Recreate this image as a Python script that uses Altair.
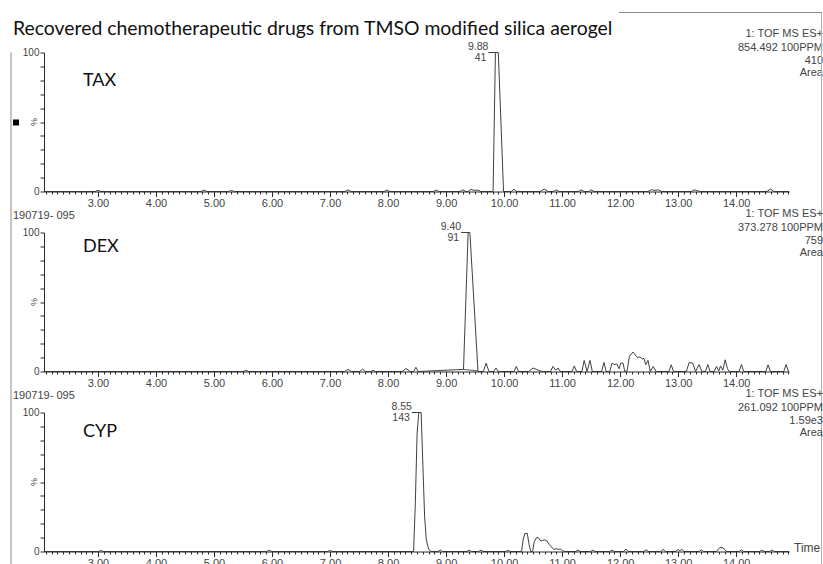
import altair as alt
import pandas as pd

# ---------------- data ----------------
title_text = "Recovered chemotherapeutic drugs from TMSO modified silica aerogel"
panel_names = ["TAX", "DEX", "CYP"]
peak_apex = [9.85, 9.38, 8.53]
peak_labels = ["9.88", "9.40", "8.55"]
peak_counts = ["41", "91", "143"]
info_lines = [
    ["1: TOF MS ES+", "854.492 100PPM", "410", "Area"],
    ["1: TOF MS ES+", "373.278 100PPM", "759", "Area"],
    ["1: TOF MS ES+", "261.092 100PPM", "1.59e3", "Area"],
]
sample_ids = ["", "190719- 095", "190719- 095"]

tax_points = [
    (2.07, 0), (2.95, 0), (3.00, 0.8), (3.05, 0), (4.78, 0), (4.83, 1.0), (4.88, 0),
    (5.25, 0), (5.30, 0.8), (5.35, 0), (7.26, 0), (7.31, 1.2), (7.36, 0), (7.93, 0),
    (7.98, 1.0), (8.03, 0), (8.78, 0), (8.83, 1.0), (8.88, 0), (9.24, 0), (9.29, 1.2),
    (9.34, 0), (9.38, 0), (9.43, 1.6), (9.48, 0.8), (9.55, 1.0), (9.60, 0), (9.81, 0),
    (9.85, 100), (9.90, 100), (9.99, 0), (10.12, 0), (10.17, 1.6), (10.22, 0),
    (10.62, 0), (10.69, 1.8), (10.76, 0), (10.85, 0), (10.90, 1.2), (10.95, 0),
    (11.28, 0), (11.33, 1.2), (11.38, 0), (11.46, 0), (11.50, 1.2), (11.55, 0),
    (12.48, 0), (12.54, 1.3), (12.60, 0.8), (12.66, 1.2), (12.71, 0), (13.23, 0),
    (13.28, 1.2), (13.33, 0.6), (13.38, 0), (14.53, 0), (14.59, 1.8), (14.65, 0),
    (14.91, 0),
]

dex_points = [
    (2.07, 0), (5.50, 0), (5.55, 0.8), (5.60, 0), (7.25, 0), (7.31, 1.5), (7.37, 0),
    (7.51, 0), (7.56, 1.8), (7.61, 0), (7.70, 0), (7.74, 0.8), (7.78, 0), (8.25, 0),
    (8.31, 2.2), (8.38, 0), (8.44, 0), (8.48, 3.0), (8.52, 0), (9.30, 1.5),
    (9.38, 100), (9.41, 100), (9.55, 0), (9.64, 0), (9.69, 6), (9.74, 0), (9.82, 0),
    (9.86, 2.5), (9.90, 0), (10.17, 0), (10.21, 3.6), (10.25, 0), (10.42, 0),
    (10.50, 2.5), (10.56, 1.5), (10.62, 0.5), (10.66, 0), (10.80, 0), (10.84, 3.6),
    (10.89, 1.0), (10.93, 2.5), (10.97, 0), (11.17, 0), (11.21, 4), (11.25, 0),
    (11.34, 0), (11.38, 8), (11.43, 0), (11.48, 8), (11.52, 0), (11.68, 0),
    (11.72, 6.5), (11.76, 0), (11.82, 0), (11.86, 6), (11.90, 5), (11.94, 5.5),
    (11.98, 2), (12.01, 6), (12.05, 6), (12.08, 0), (12.12, 0.5), (12.16, 11),
    (12.22, 14), (12.26, 12), (12.30, 10), (12.34, 10.5), (12.38, 9), (12.41, 9.5),
    (12.44, 5), (12.48, 8), (12.52, 0), (12.57, 3.6), (12.62, 0), (12.84, 0),
    (12.88, 4.8), (12.92, 0), (13.14, 0), (13.19, 6.5), (13.25, 6), (13.30, 0),
    (13.36, 5), (13.41, 0), (13.47, 0), (13.51, 5), (13.55, 0), (13.62, 0),
    (13.66, 3.6), (13.70, 0.5), (13.73, 4), (13.77, 1), (13.81, 8.4), (13.85, 2),
    (13.88, 0), (14.05, 0), (14.09, 5), (14.13, 0), (14.51, 0), (14.55, 4.8),
    (14.59, 0), (14.82, 0), (14.86, 5), (14.90, 0), (14.91, 0),
]
dex_integration = [(9.30, 1.5), (9.55, 0.4)]

cyp_points = [
    (2.07, 0), (3.00, 0), (3.05, 0.6), (3.10, 0), (5.90, 0), (5.95, 0.8), (6.00, 0),
    (6.95, 0), (7.00, 0.6), (7.05, 0), (8.44, 0), (8.47, 35), (8.50, 85), (8.53, 100),
    (8.57, 100), (8.60, 62), (8.63, 25), (8.66, 8), (8.70, 1.5), (8.74, 0), (8.86, 0),
    (8.90, 1.0), (8.94, 0), (9.36, 0), (9.40, 1.0), (9.44, 0), (9.56, 0), (9.60, 1.0),
    (9.64, 0), (10.03, 0), (10.07, 0.8), (10.11, 0), (10.30, 0), (10.33, 9),
    (10.36, 13), (10.40, 13), (10.43, 5), (10.46, 0), (10.49, 0), (10.52, 7),
    (10.56, 10), (10.59, 10), (10.63, 7.5), (10.66, 8), (10.70, 8.4), (10.74, 7.5),
    (10.78, 5), (10.83, 2.5), (10.86, 1.5), (10.90, 2), (10.93, 1.5), (10.97, 1.8),
    (11.01, 0.5), (11.05, 0), (11.23, 0), (11.27, 1.0), (11.31, 0), (11.49, 0),
    (11.53, 1.0), (11.57, 0), (11.82, 0), (11.86, 1.0), (11.90, 0), (12.06, 0),
    (12.10, 1.8), (12.14, 0), (12.41, 0), (12.45, 1.2), (12.49, 0), (12.70, 0),
    (12.74, 1.5), (12.78, 0), (12.96, 0), (13.00, 1.5), (13.03, 0.5), (13.06, 1.6),
    (13.10, 0), (13.36, 0), (13.40, 1.2), (13.44, 0), (13.66, 0), (13.72, 3.0),
    (13.78, 2.5), (13.83, 0), (14.05, 0), (14.09, 1.2), (14.13, 0), (14.40, 0),
    (14.44, 1.0), (14.48, 0), (14.58, 0), (14.62, 1.0), (14.66, 0), (14.91, 0),
]

traces = [tax_points, dex_points, cyp_points]
name_y = [28, 14, 19]
info_y = [-19, -5, 8, 20]

# ---------------- styling ----------------
W, H = 745, 139
X_DOMAIN = [2.07, 14.91]
LINE = "#2a2a2a"
LAB = "#444444"
AX_FONT = "Liberation Sans"
TXT_FONT = "Lato"

x_ticks = [round(2.1 + 0.1 * k, 1) for k in range(129)]
y_ticks = list(range(0, 101, 10))
IS_MAJOR = "abs(datum.value - round(datum.value)) < 0.001"


def x_axis():
    return alt.Axis(
        values=x_ticks,
        labelExpr=IS_MAJOR + " ? format(datum.value, '.2f') : ''",
        tickSize={"condition": {"test": IS_MAJOR, "value": 5}, "value": 2.5},
        labelOverlap=False, labelFlush=False, grid=False, title=None,
        labelPadding=1, labelFont=AX_FONT, labelFontSize=11, labelColor=LAB,
        domainColor=LINE, tickColor=LINE,
    )


def y_axis():
    return alt.Axis(
        values=y_ticks,
        labelExpr="(datum.value == 0 || datum.value == 100) ? format(datum.value, 'd') : ''",
        tickSize=4, labelOverlap=False, grid=False, title=None,
        labelPadding=1, labelFont=AX_FONT, labelFontSize=10, labelColor=LAB,
        domainColor=LINE, tickColor=LINE,
    )


xs = alt.Scale(domain=X_DOMAIN, nice=False, zero=False)
ys = alt.Scale(domain=[0, 100], nice=False, zero=False)


def X():
    return alt.X("t:Q", scale=xs, axis=x_axis())


def Y():
    return alt.Y("v:Q", scale=ys, axis=y_axis())


def txt(s, x, y, **kw):
    return alt.Chart(pd.DataFrame({"s": [s]})).mark_text(**kw).encode(
        x=alt.value(x), y=alt.value(y), text="s:N")


def panel(i):
    df = pd.DataFrame(traces[i], columns=["t", "v"])
    layers = [alt.Chart(df).mark_line(color=LINE, strokeWidth=0.9).encode(x=X(), y=Y())]
    pk = pd.DataFrame({"t": [peak_apex[i]], "v": [100],
                       "lab": [peak_labels[i]], "cnt": [peak_counts[i]]})
    pkc = alt.Chart(pk)
    layers.append(pkc.mark_rule(color=LINE, strokeWidth=0.9, xOffset=-7).encode(
        x=X(), x2="t:Q", y=Y()))
    layers.append(pkc.mark_text(align="right", baseline="middle", dx=-7, dy=-6,
                                font=AX_FONT, fontSize=10.5, color=LAB).encode(
        x=X(), y=Y(), text="lab:N"))
    layers.append(pkc.mark_text(align="right", baseline="middle", dx=-9, dy=5,
                                font=AX_FONT, fontSize=10.5, color=LAB).encode(
        x=X(), y=Y(), text="cnt:N"))
    if i == 1:
        ig = pd.DataFrame(dex_integration, columns=["t", "v"])
        layers.append(alt.Chart(ig).mark_line(color=LINE, strokeWidth=0.8).encode(
            x=X(), y=Y()))
    layers.append(txt(panel_names[i], 39, name_y[i], align="left", baseline="middle",
                      font=TXT_FONT, fontSize=18, color="#111"))
    for s, yy in zip(info_lines[i], info_y):
        layers.append(txt(s, W + 34, yy, align="right", baseline="middle",
                          font=AX_FONT, fontSize=11, color=LAB))
    layers.append(txt("%", -10, H / 2, angle=270, align="center", baseline="middle",
                      font=AX_FONT, fontSize=9, color=LAB))
    if sample_ids[i]:
        layers.append(txt(sample_ids[i], -31, -17, align="left", baseline="middle",
                          font=AX_FONT, fontSize=11, color=LAB))
    if i == 0:
        layers.append(txt(title_text, -31, -24, align="left", baseline="middle",
                          font=TXT_FONT, fontSize=19.4, color="#111"))
        layers.append(alt.Chart(pd.DataFrame({"k": [0]})).mark_square(
            size=36, color="black", opacity=1).encode(x=alt.value(-28), y=alt.value(70)))
        frame = alt.Chart(pd.DataFrame({"k": [0]}))
        layers.append(frame.mark_rule(color="#8a8a8a", strokeWidth=1).encode(
            x=alt.value(-33), y=alt.value(0), y2=alt.value(520)))
        layers.append(frame.mark_rule(color="#8a8a8a", strokeWidth=1).encode(
            x=alt.value(575), x2=alt.value(778), y=alt.value(-40)))
        layers.append(frame.mark_rule(color="#b0b0b0", strokeWidth=1).encode(
            x=alt.value(777.5), y=alt.value(-40), y2=alt.value(520)))
    if i == 2:
        layers.append(txt("Time", W + 5, H - 4, align="left", baseline="middle",
                          font=AX_FONT, fontSize=12, color=LAB))
    return alt.layer(*layers).properties(width=W, height=H)


chart = alt.vconcat(panel(0), panel(1), panel(2), spacing=41, bounds="flush").properties(
    padding={"left": 10, "top": 11.5, "right": 0, "bottom": 0},
    background="white",
).configure_view(stroke=None)

chart.save("out.html", embed_options={"renderer": "svg", "actions": False})
